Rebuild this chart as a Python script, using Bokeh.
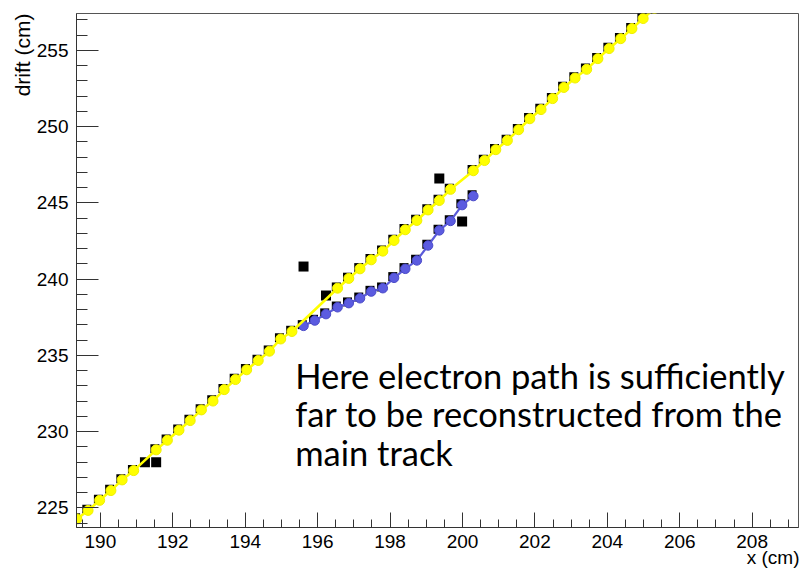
from bokeh.plotting import figure
from bokeh.models import Range1d, SingleIntervalTicker, Label, ColumnDataSource, Title
from bokeh.transform import dodge
from bokeh.embed import file_html
from bokeh.resources import INLINE

# Main track (fitted hits, yellow)
track_x = [189.35, 189.66, 189.98, 190.29, 190.60, 190.92,
           191.54, 191.85, 192.17, 192.48, 192.79, 193.11, 193.42, 193.73, 194.04, 194.36, 194.67, 194.98, 195.29,
           196.55, 196.86, 197.17, 197.48, 197.80, 198.11, 198.42, 198.74, 199.05, 199.36, 199.67,
           200.30, 200.61, 200.92, 201.24, 201.55, 201.86, 202.17, 202.49, 202.80, 203.11, 203.43, 203.74,
           204.05, 204.37, 204.68, 204.99, 205.30]
track_y = [224.28, 224.84, 225.50, 226.14, 226.84, 227.45,
           228.81, 229.44, 230.10, 230.73, 231.43, 232.01, 232.76, 233.42, 234.06, 234.67, 235.28, 236.08, 236.57,
           239.41, 240.05, 240.68, 241.27, 241.84, 242.54, 243.24, 243.85, 244.54, 245.16, 245.89,
           247.11, 247.78, 248.49, 249.10, 249.80, 250.52, 251.12, 251.84, 252.57, 253.19, 253.76, 254.46,
           255.12, 255.77, 256.43, 257.09, 257.75]

# Electron path (blue)
electron_x = [195.61, 195.92, 196.23, 196.55, 196.86, 197.17, 197.48, 197.80,
              198.11, 198.42, 198.74, 199.05, 199.36, 199.67, 199.99, 200.30]
electron_y = [236.94, 237.29, 237.71, 238.16, 238.43, 238.75, 239.19, 239.41,
              240.09, 240.68, 241.23, 242.21, 243.20, 243.82, 244.86, 245.45]

# Unassigned hits (black)
stray_x = [191.23, 191.54, 195.61, 196.23, 199.36, 199.99]
stray_y = [227.99, 227.99, 240.83, 238.93, 246.60, 243.79]

x_start, x_end = 189.34, 209.28
y_start, y_end = 223.72, 257.42

track = ColumnDataSource(dict(x=track_x, y=track_y))
electron = ColumnDataSource(dict(x=electron_x, y=electron_y))
stray = ColumnDataSource(dict(x=stray_x, y=stray_y))

p = figure(width=800, height=572, output_backend="svg", toolbar_location=None,
           x_range=Range1d(x_start, x_end), y_range=Range1d(y_start, y_end),
           min_border_left=76, min_border_right=2, min_border_top=13, min_border_bottom=45)
p.xgrid.visible = False
p.ygrid.visible = False
p.outline_line_color = "#555555"
p.outline_line_width = 1
p.background_fill_color = "white"
p.border_fill_color = "white"

tick_font = "Liberation Sans"
p.xaxis.ticker = SingleIntervalTicker(interval=2, num_minor_ticks=4)
p.yaxis.ticker = SingleIntervalTicker(interval=5, num_minor_ticks=5)
for ax in (p.xaxis[0], p.yaxis[0]):
    ax.axis_line_color = "#333333"
    ax.major_tick_line_color = "#333333"
    ax.minor_tick_line_color = "#333333"
    ax.major_tick_out = 0
    ax.minor_tick_out = 0
    ax.major_label_text_font = tick_font
    ax.major_label_text_font_size = "19px"
    ax.major_label_text_color = "black"
p.xaxis.major_tick_in = 15
p.xaxis.minor_tick_in = 8
p.yaxis.major_tick_in = 22
p.yaxis.minor_tick_in = 11
p.xaxis.major_label_standoff = 7
p.yaxis.major_label_standoff = 8

# axis titles (ROOT style, right aligned)
p.add_layout(Title(text="x (cm)", align="right", text_font=tick_font, text_font_size="19px",
                   text_font_style="normal", text_color="black", standoff=-12, offset=-1), "below")
p.add_layout(Title(text="drift (cm)", align="right", text_font=tick_font, text_font_size="21px",
                   text_font_style="normal", text_color="black", standoff=0, offset=0), "left")

# black hit squares behind the fitted points
p.scatter(x=dodge("x", -0.035), y=dodge("y", 0.08), source=track, marker="square",
          size=9, fill_color="black", line_color=None)
p.scatter(x=dodge("x", -0.035), y=dodge("y", 0.08), source=electron, marker="square",
          size=9, fill_color="black", line_color=None)
p.scatter(x="x", y="y", source=stray, marker="square", size=10,
          fill_color="black", line_color=None)

p.line(x="x", y="y", source=electron, line_color="#5b5bd9", line_width=2.2)
p.scatter(x="x", y="y", source=electron, marker="circle", size=9.5,
          fill_color="#5b5be0", line_color="#4a4ac8", line_width=1)

p.line(x="x", y="y", source=track, line_color="#ffff00", line_width=2.6)
p.scatter(x="x", y="y", source=track, marker="circle", size=10,
          fill_color="#ffff00", line_color="#f0f000", line_width=1)

# annotation text
notes = ["Here electron path is sufficiently", "far to be reconstructed from the", "main track"]
note_y = [233.70, 231.21, 228.65]
for t, yy in zip(notes, note_y):
    p.add_layout(Label(x=195.38, y=yy, text=t, text_align="left", text_baseline="alphabetic",
                       text_font="Lato", text_font_size="34.5px", text_color="black"))

open("out.html", "w").write(file_html(p, INLINE))
